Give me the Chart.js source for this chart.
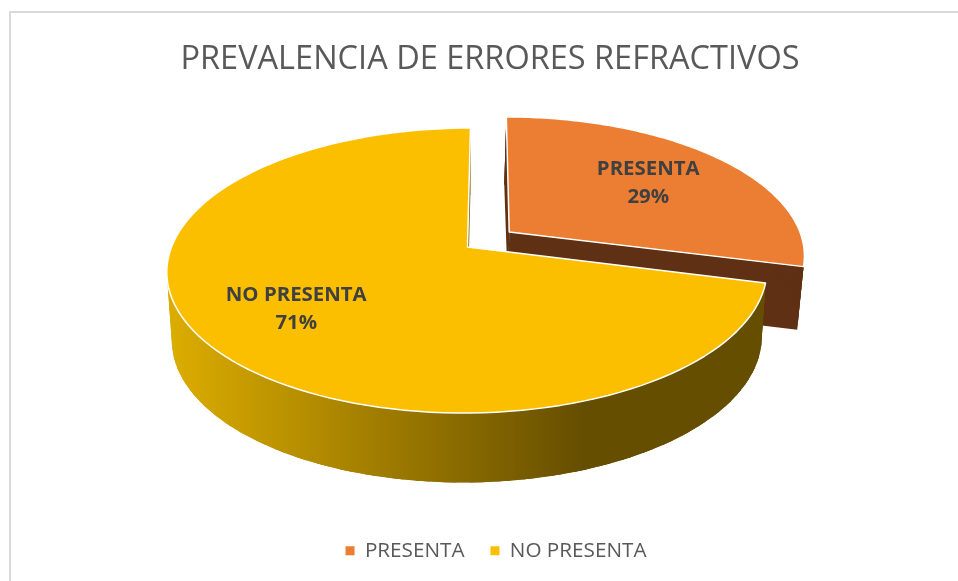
<!DOCTYPE html>
<html>
<head>
<meta charset="utf-8">
<script src="https://cdn.jsdelivr.net/npm/chart.js@4"></script>
<style>
  html, body { margin: 0; background: #fff; overflow: hidden; }
  canvas { display: block; }
</style>
</head>
<body>
<canvas id="myChart" width="958" height="581"></canvas>
<script>
const categories = ["PRESENTA", "NO PRESENTA"];
const percents = [29, 71];
const titleText = "PREVALENCIA DE ERRORES REFRACTIVOS";

const topColors = ["#EB7E32", "#FCBF00"];
const explode = [0.18, 0];

// 3D look: pie plane goes through a small perspective, chart.js only gives the angles
const cx = 467.5;
const lean = -0.025;
const topPlane = { cy: 247, a: 296, b: 138.6, k: 0.165 };
const lowPlane = { cy: 310, a: 289, b: 138, k: 0.2 };

function project(pl, u, v) {
  const w = 1 - pl.k * v;
  const dy = pl.b * v / w;
  return [cx + pl.a * u / w + lean * dy, pl.cy + dy];
}

function sliceInfo(arc, i) {
  const p = arc.getProps(["startAngle", "endAngle"], true);
  const mid = (p.startAngle + p.endAngle) / 2;
  return {
    start: p.startAngle,
    end: p.endAngle,
    mid: mid,
    ou: Math.cos(mid) * explode[i],
    ov: Math.sin(mid) * explode[i]
  };
}

function rimPoints(pl, s) {
  const pts = [];
  const n = 120;
  for (let j = 0; j <= n; j++) {
    const t = s.start + (s.end - s.start) * j / n;
    pts.push(project(pl, s.ou + Math.cos(t), s.ov + Math.sin(t)));
  }
  return pts;
}

function fillPoly(ctx, pts, color) {
  ctx.beginPath();
  pts.forEach((p, j) => (j ? ctx.lineTo(p[0], p[1]) : ctx.moveTo(p[0], p[1])));
  ctx.closePath();
  ctx.fillStyle = color;
  ctx.fill();
}

function wallColor(ctx, i) {
  if (i === 0) return "#5F3013";
  const g = ctx.createLinearGradient(172, 0, 583, 0);
  g.addColorStop(0, "#DBAC00");
  g.addColorStop(1, "#664E00");
  return g;
}

const pie3d = {
  id: "pie3d",
  afterLayout(chart) {
    // legend sits a bit right of where chart.js would centre it
    chart.legend.left += 6;
    chart.legend.right += 6;
    chart.legend.top -= 10;
    chart.legend.bottom -= 10;
  },
  beforeDraw(chart) {
    const ctx = chart.ctx;
    ctx.save();
    ctx.strokeStyle = "#D9D9D9";
    ctx.lineWidth = 2;
    ctx.beginPath();
    ctx.moveTo(10, 581);
    ctx.lineTo(10, 12);
    ctx.lineTo(958, 12);
    ctx.stroke();
    ctx.restore();
  },
  beforeDatasetsDraw(chart) {
    const ctx = chart.ctx;
    const arcs = chart.getDatasetMeta(0).data;
    ctx.save();
    arcs.forEach((arc, i) => {
      const s = sliceInfo(arc, i);
      const topRim = rimPoints(topPlane, s);
      const lowRim = rimPoints(lowPlane, s);
      const topC = project(topPlane, s.ou, s.ov);
      const lowC = project(lowPlane, s.ou, s.ov);
      const col = wallColor(ctx, i);

      // side walls first, top face goes over them
      fillPoly(ctx, [topC, topRim[0], lowRim[0], lowC], col);
      fillPoly(ctx, [topC, topRim[topRim.length - 1], lowRim[lowRim.length - 1], lowC], col);
      fillPoly(ctx, topRim.concat(lowRim.slice().reverse()), col);
      // overlapping quads so the silhouette is the tangent between both rims
      for (let j = 0; j < topRim.length - 3; j += 2) {
        fillPoly(ctx, [topRim[j], topRim[j + 3], lowRim[j + 3], lowRim[j]], col);
      }

      fillPoly(ctx, [topC].concat(topRim), topColors[i]);
      ctx.strokeStyle = "#FFFFFF";
      ctx.lineWidth = 1.5;
      ctx.lineJoin = "round";
      ctx.stroke();
    });

    // data labels
    ctx.fillStyle = "#404040";
    ctx.font = "bold 20.4px 'Open Sans'";
    ctx.textAlign = "center";
    ctx.textBaseline = "middle";
    arcs.forEach((arc, i) => {
      const s = sliceInfo(arc, i);
      const p = project(topPlane, s.ou + Math.cos(s.mid) * 0.665, s.ov + Math.sin(s.mid) * 0.665);
      ctx.fillText(categories[i], p[0] - 3, p[1] - 12);
      ctx.fillText(percents[i] + "%", p[0] - 3, p[1] + 16);
    });
    ctx.restore();
    return false;
  }
};

new Chart(document.getElementById("myChart").getContext("2d"), {
  type: "pie",
  data: {
    labels: categories,
    datasets: [{ data: percents, backgroundColor: topColors, borderWidth: 0 }]
  },
  options: {
    responsive: false,
    animation: false,
    rotation: 0,
    layout: { padding: { left: 22, top: 40, bottom: 0 } },
    plugins: {
      tooltip: { enabled: false },
      title: {
        display: true,
        text: titleText,
        color: "#595959",
        font: { family: "'Open Sans'", size: 32.5, weight: "normal" },
        padding: { top: 0, bottom: 10 }
      },
      legend: {
        position: "bottom",
        labels: {
          color: "#595959",
          font: { family: "'Open Sans'", size: 20.7 },
          boxWidth: 9,
          boxHeight: 9,
          padding: 26
        }
      }
    }
  },
  plugins: [pie3d]
});
</script>
</body>
</html>
